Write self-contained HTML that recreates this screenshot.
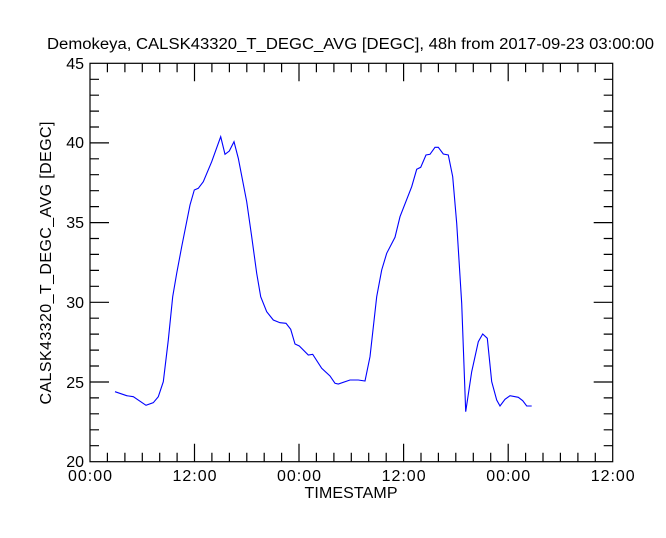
<!DOCTYPE html>
<html><head><meta charset="utf-8"><style>body{margin:0;background:#fff}</style></head><body>
<svg width="666" height="533" xmlns="http://www.w3.org/2000/svg" font-family="Liberation Sans, sans-serif" font-size="16" fill="#000">
<text x="47" y="49" textLength="607" lengthAdjust="spacingAndGlyphs" font-size="15.5">Demokeya, CALSK43320_T_DEGC_AVG [DEGC], 48h from  2017-09-23 03:00:00</text>
<rect x="90" y="63.3" width="522.7" height="398.4" fill="none" stroke="#000" stroke-width="1.2"/>
<g stroke="#000" stroke-width="1.2" id="t">
<path d="M90,142.9h19M90,222.6h19M90,302.3h19M90,382h19M612.7,142.9h-19M612.7,222.6h-19M612.7,302.3h-19M612.7,382h-19"/>
<path d="M90,79.3h9M90,95.2h9M90,111.1h9M90,127h9M90,158.8h9M90,174.7h9M90,190.7h9M90,206.6h9M90,238.5h9M90,254.4h9M90,270.4h9M90,286.3h9M90,318.2h9M90,334.1h9M90,350.1h9M90,366h9M90,397.9h9M90,413.8h9M90,429.8h9M90,445.7h9"/>
<path d="M612.7,79.3h-9M612.7,95.2h-9M612.7,111.1h-9M612.7,127h-9M612.7,158.8h-9M612.7,174.7h-9M612.7,190.7h-9M612.7,206.6h-9M612.7,238.5h-9M612.7,254.4h-9M612.7,270.4h-9M612.7,286.3h-9M612.7,318.2h-9M612.7,334.1h-9M612.7,350.1h-9M612.7,366h-9M612.7,397.9h-9M612.7,413.8h-9M612.7,429.8h-9M612.7,445.7h-9"/>
<path d="M194.5,461.7v-18M299,461.7v-18M403.6,461.7v-18M508.2,461.7v-18M194.5,63.3v18M299,63.3v18M403.6,63.3v18M508.2,63.3v18"/>
<path d="M107.4,461.7v-9M124.9,461.7v-9M142.3,461.7v-9M159.7,461.7v-9M177.1,461.7v-9M211.9,461.7v-9M229.4,461.7v-9M246.8,461.7v-9M264.2,461.7v-9M281.6,461.7v-9M316.4,461.7v-9M333.9,461.7v-9M351.3,461.7v-9M368.7,461.7v-9M386.2,461.7v-9M421,461.7v-9M438.4,461.7v-9M455.8,461.7v-9M473.3,461.7v-9M490.7,461.7v-9M525.6,461.7v-9M543,461.7v-9M560.4,461.7v-9M577.9,461.7v-9M595.3,461.7v-9"/>
<path d="M107.4,63.3v9M124.9,63.3v9M142.3,63.3v9M159.7,63.3v9M177.1,63.3v9M211.9,63.3v9M229.4,63.3v9M246.8,63.3v9M264.2,63.3v9M281.6,63.3v9M316.4,63.3v9M333.9,63.3v9M351.3,63.3v9M368.7,63.3v9M386.2,63.3v9M421,63.3v9M438.4,63.3v9M455.8,63.3v9M473.3,63.3v9M490.7,63.3v9M525.6,63.3v9M543,63.3v9M560.4,63.3v9M577.9,63.3v9M595.3,63.3v9"/>
</g>
<g text-anchor="end">
<text x="84" y="69">45</text><text x="84" y="148">40</text><text x="84" y="228">35</text><text x="84" y="308">30</text><text x="84" y="388">25</text><text x="84" y="467">20</text>
</g>
<g text-anchor="middle">
<text x="90" y="481" textLength="44">00:00</text><text x="194.5" y="481" textLength="44">12:00</text><text x="299" y="481" textLength="44">00:00</text><text x="403.6" y="481" textLength="44">12:00</text><text x="508.2" y="481" textLength="44">00:00</text><text x="612.7" y="481" textLength="44">12:00</text>
<text x="351" y="498" textLength="93">TIMESTAMP</text>
<text transform="translate(51,263) rotate(-90)" textLength="283">CALSK43320_T_DEGC_AVG [DEGC]</text>
</g>
<polyline fill="none" stroke="#0000ff" stroke-width="1.1" points="115,391.7 126.7,395.7 133.3,396.7 146,405.3 153.3,402.7 158.3,396.7 163.3,381.7 168.3,340 172.7,296.7 176.7,273.3 181.7,246.7 190,205 194.3,190 198.3,188.3 203.3,181.7 211.7,161.7 220.7,136.7 225,154.3 229.3,151 234,141.7 238.3,158.3 246.7,201.7 251.7,236.7 256.7,273.3 260.7,296.7 266.7,311.7 273.3,320 280,322.7 286,323.3 290.7,329.3 295,344 299.3,346 308.3,355 312.7,354.3 321.7,368.3 330,376 335,383.3 338.3,384 350,380 358.3,380 365,381 370,356.7 376.7,296.7 381.7,270 386.7,253.3 395,237.3 400,216.7 411.7,186.7 416.7,169.3 420.7,167.3 426,155 430,154.3 435,147.3 438.3,147.3 443.3,154 448.3,155 452.7,176.7 456.7,223.3 461.7,303.3 465.7,411.7 471.7,371.7 478.3,341.7 482.7,334 487.3,338.3 491.7,381.7 496.7,400 500,406 505,399.3 510,395.7 518.3,397.3 522.7,400.7 526.7,406 531.7,406"/>
</svg>
</body></html>
